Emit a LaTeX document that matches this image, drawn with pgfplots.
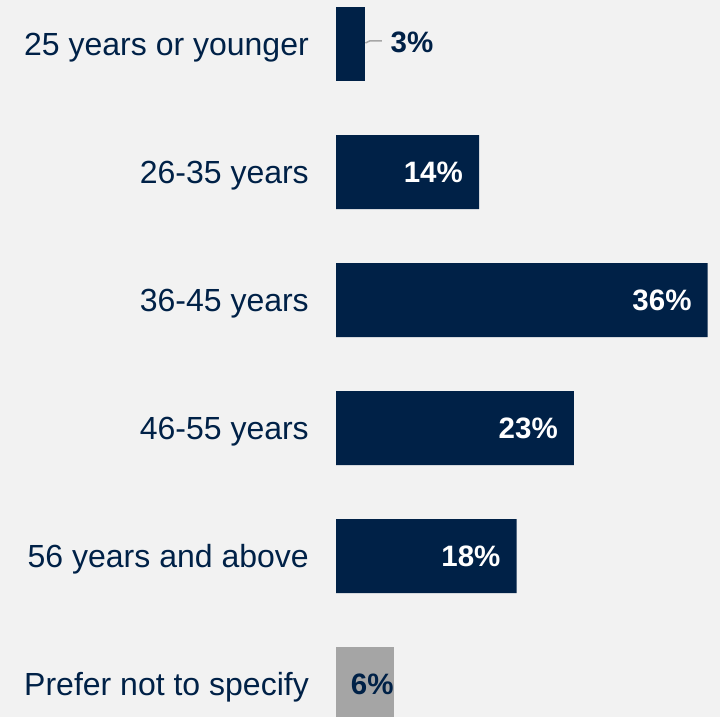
\documentclass[border=0pt]{standalone}
\usepackage{pgfplots}
\pgfplotsset{compat=1.18}
\usepackage{fontspec}
\setmainfont{Liberation Sans}
\definecolor{navy}{HTML}{002147}
\definecolor{bggrey}{HTML}{F2F2F2}
\definecolor{bargrey}{HTML}{A5A5A5}
\definecolor{leadgrey}{HTML}{A6A6A6}
\begin{document}
\begin{tikzpicture}
\fill[bggrey] (0,0) rectangle (720pt,717pt);
\path[use as bounding box] (0,0) rectangle (720pt,717pt);
\begin{axis}[at={(336pt,0pt)}, anchor=south west, scale only axis,
  width=371.7pt, height=717pt,
  xbar, bar width=74pt, bar shift=0pt,
  xmin=0, xmax=36, ymin=-0.34375, ymax=5.2578, y dir=reverse,
  axis line style={draw=none}, xtick=\empty, ytick={0,...,5}, major tick length=0pt,
  yticklabels={25 years or younger, 26-35 years, 36-45 years, 46-55 years, 56 years and above, Prefer not to specify},
  yticklabel style={font=\fontsize{32}{38}\selectfont, text=navy, anchor=base east, inner sep=0pt, xshift=-27pt, yshift=-11.5pt},
  point meta=explicit symbolic, nodes near coords={\pgfplotspointmeta\%},
  nodes near coords style={font=\fontsize{29.5}{35}\selectfont\bfseries, inner sep=0pt},
]
\addplot[fill=navy, draw=none, bar shift=0pt, nodes near coords style={anchor=west, text=navy, xshift=25.5pt, yshift=2pt}] table[meta=l] {
x y l
2.81 0 3
};
\addplot[fill=navy, draw=none, bar shift=0pt, nodes near coords style={anchor=east, text=white, xshift=-16pt}] table[meta=l] {
x y l
13.85 1 14
36 2 36
23.05 3 23
17.5 4 18
};
\addplot[fill=bargrey, draw=none, bar shift=0pt, nodes near coords style={anchor=east, text=navy, xshift=0pt}] table[meta=l] {
x y l
5.6 5 6
};
\draw[leadgrey, line width=1.5pt] (axis cs:2.85,-0.008) -- (axis cs:3.3,-0.025) -- (axis cs:4.45,-0.025);
\end{axis}
\end{tikzpicture}
\end{document}
